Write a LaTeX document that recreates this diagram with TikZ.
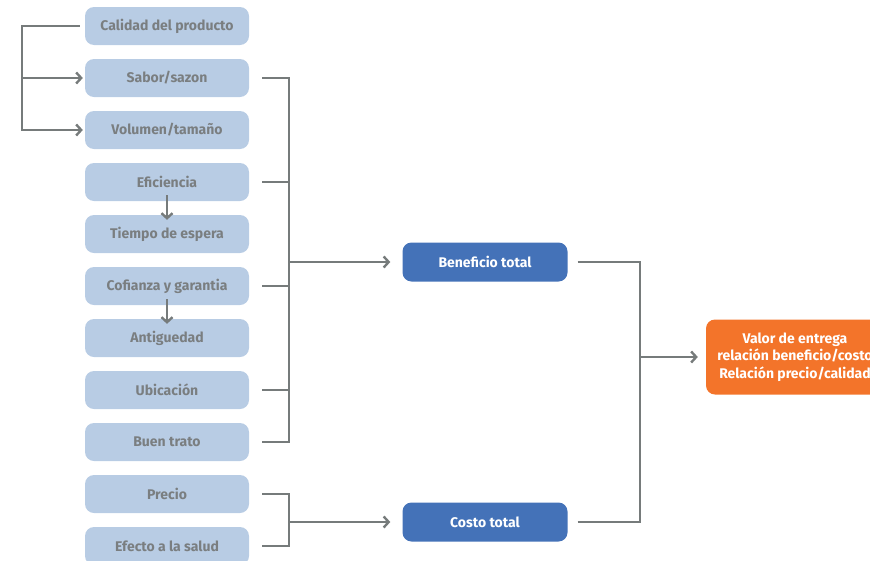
\documentclass[tikz,border=0pt]{standalone}
\usepackage{fontspec}
\setmainfont{Fira Sans}
\usepackage{tikz}
\usetikzlibrary{arrows.meta,positioning}
\definecolor{itemblue}{HTML}{B8CCE4}
\definecolor{itemtext}{HTML}{7A7E80}
\definecolor{totalblue}{HTML}{4472B8}
\definecolor{valororange}{HTML}{F3742A}
\definecolor{linegray}{HTML}{767B7B}

\begin{document}
\begin{tikzpicture}[
  x=1pt, y=-1pt,
  node distance=13.6pt,
  b/.style={rounded corners=9pt,align=center,font=\fontsize{14}{17.5}\selectfont\bfseries,inner sep=2pt,minimum width=164pt,minimum height=38pt},
  item/.style={b,fill=itemblue,text=itemtext},
  total/.style={b,fill=totalblue,text=white,minimum width=165pt,minimum height=39pt},
  valor/.style={b,fill=valororange,text=white,minimum width=178pt,minimum height=75pt},
  ln/.style={draw=linegray,line width=2.6pt},
  arr/.style={ln,-{Straight Barb[length=5pt,width=11pt,line width=2.4pt]}}
]
\useasboundingbox (0,0) rectangle (870,560);
\node[item] at (167,26) (cal) {Calidad del producto};
\node[item,below=of cal] (sabor) {Sabor/sazon};
\node[item,below=of sabor] (vol) {Volumen/tamaño};
\node[item,below=of vol] (efic) {Eficiencia};
\node[item,below=of efic] (tiempo) {Tiempo de espera};
\node[item,below=of tiempo] (confi) {Cofianza y garantia};
\node[item,below=of confi] (antig) {Antiguedad};
\node[item,below=of antig] (ubic) {Ubicación};
\node[item,below=of ubic] (trato) {Buen trato};
\node[item,below=of trato] (precio) {Precio};
\node[item,below=of precio] (salud) {Efecto a la salud};
\node[total] at (485,262) (bt) {Beneficio total};
\node[total] at (485,522) (ct) {Costo total};
\node[valor] at (795,357) (val) {Valor de entrega\\relación beneficio/costo\\Relación precio/calidad};
% calidad del producto
\coordinate (jl) at ([xshift=-63pt]cal.west);
\draw[arr] ([xshift=-5pt]cal.west) -- (jl) |- ([xshift=-2pt]vol.west);
\draw[arr] (jl |- sabor.west) -- ([xshift=-2pt]sabor.west);
\draw[arr] ([yshift=6pt]efic.south) -- ([yshift=-5pt]tiempo.north);
\draw[arr] ([yshift=6pt]confi.south) -- ([yshift=-5pt]antig.north);
% beneficio y costo
\coordinate (jb) at (289,262);
\foreach \n in {sabor,efic,confi,ubic,trato}
  \draw[ln] ([xshift=13pt]\n.east) -| (jb);
\draw[arr] (jb) -- ([xshift=-12pt]bt.west);
\coordinate (jc) at (289,522);
\foreach \n in {precio,salud}
  \draw[ln] ([xshift=13pt]\n.east) -| (jc);
\draw[arr] (jc) -- ([xshift=-12pt]ct.west);
% valor de entrega
\coordinate (jv) at (640,357);
\draw[ln] ([xshift=10pt]bt.east) -| (jv);
\draw[ln] ([xshift=10pt]ct.east) -| (jv);
\draw[arr] (jv) -- ([xshift=-8pt]val.west);
\end{tikzpicture}
\end{document}
